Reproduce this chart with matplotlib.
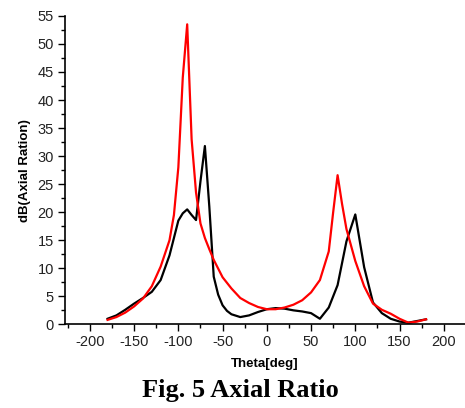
import matplotlib
matplotlib.use('Agg')
import matplotlib.pyplot as plt
from matplotlib.ticker import MultipleLocator

plt.rcParams['axes.unicode_minus'] = False

# black curve (theta in deg, axial ratio in dB)
theta_black = [-180, -170, -160, -150, -140, -130, -120, -110, -100, -95, -90, -85,
               -80, -75, -70, -65, -60, -55, -50, -45, -40, -30, -20, -10, 0, 10,
               20, 30, 40, 50, 60, 70, 80, 90, 100, 110, 120, 130, 140, 150, 160,
               170, 180]
ar_black = [1.0, 1.6, 2.6, 3.7, 4.7, 5.8, 7.9, 12.3, 18.5, 19.8, 20.5, 19.5,
            18.6, 25.5, 31.8, 21.0, 8.5, 5.3, 3.4, 2.4, 1.8, 1.3, 1.6, 2.2, 2.7, 2.9,
            2.8, 2.5, 2.3, 2.0, 1.0, 3.0, 7.0, 14.8, 19.6, 10.2, 3.9, 2.0, 1.0, 0.5, 0.3,
            0.6, 0.9]

# red curve
theta_red = [-180, -170, -160, -150, -140, -130, -120, -110, -105, -100, -95, -90,
             -85, -80, -75, -70, -65, -60, -50, -40, -30, -20, -10, 0, 10, 20, 30,
             40, 50, 60, 70, 75, 80, 85, 90, 100, 110, 120, 130, 140, 150, 160, 170,
             180]
ar_red = [0.8, 1.3, 2.1, 3.2, 4.6, 6.8, 10.3, 15.0, 19.5, 28.0, 44.0, 53.5,
          33.0, 23.5, 18.0, 15.4, 13.4, 11.5, 8.4, 6.4, 4.7, 3.8, 3.1, 2.7, 2.7, 3.0, 3.5,
          4.3, 5.7, 7.9, 13.0, 20.0, 26.6, 21.5, 17.0, 11.3, 6.8, 3.7, 2.6, 1.9, 1.0, 0.3, 0.5,
          0.9]

fig = plt.figure(figsize=(4.65, 4.08), dpi=100)
ax = fig.add_axes([0.14, 0.205, 0.86, 0.756])

ax.plot(theta_black, ar_black, color='k', lw=1.6)
ax.plot(theta_red, ar_red, color='#ff0000', lw=1.6)

ax.set_xlim(-228, 224)
ax.set_ylim(0, 55)
ax.xaxis.set_major_locator(MultipleLocator(50))
ax.xaxis.set_minor_locator(MultipleLocator(25))
ax.yaxis.set_major_locator(MultipleLocator(5))
ax.yaxis.set_minor_locator(MultipleLocator(2.5))

for s in ['top', 'right']:
    ax.spines[s].set_visible(False)
for s in ['left', 'bottom']:
    ax.spines[s].set_linewidth(1.2)

ax.tick_params(which='major', length=5, width=1, labelsize=10.5,
               labelcolor='#222222', pad=3)
ax.tick_params(which='minor', length=3, width=1)
for lab in ax.get_xticklabels() + ax.get_yticklabels():
    lab.set_family('Liberation Sans')

ax.set_xlabel('Theta[deg]', fontsize=9.5, fontweight='bold',
              family='Liberation Sans', labelpad=6)
ax.set_ylabel('dB(Axial Ration)', fontsize=9.5, fontweight='bold',
              family='Liberation Sans', labelpad=5)

fig.text(0.516, 0.042, 'Fig. 5 Axial Ratio', ha='center', va='center',
         fontsize=19, fontweight='bold', family='Liberation Serif')

fig.savefig('out.png', dpi=100)
